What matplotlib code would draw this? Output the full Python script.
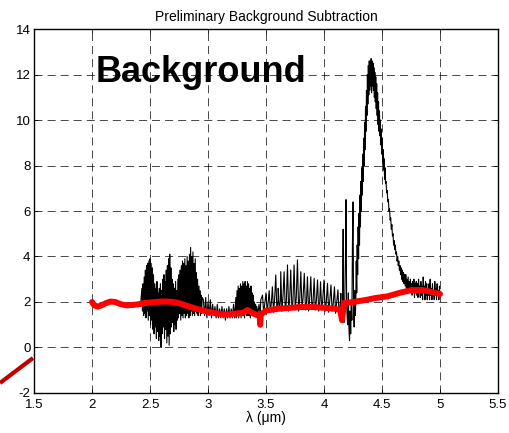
import numpy as np
import matplotlib.pyplot as plt
from matplotlib.lines import Line2D

plt.rcParams['font.family'] = ['Liberation Sans', 'DejaVu Sans']
plt.rcParams['lines.scale_dashes'] = False
plt.rcParams['axes.unicode_minus'] = False

# --- spectrum ---
flat_lam = [2.00, 2.02, 2.04, 2.06, 2.08, 2.10, 2.12, 2.14, 2.16, 2.18, 2.20,
            2.22, 2.24, 2.26, 2.28, 2.30, 2.32, 2.34, 2.36, 2.38, 2.40, 2.42]
flat_flux = [2.00, 1.85, 1.80, 1.85, 1.90, 1.95, 2.00, 2.05, 2.05, 2.00, 2.02,
             1.95, 1.90, 1.88, 1.85, 1.88, 1.90, 1.85, 1.92, 1.95, 1.90, 1.98]

# 2.43 - 2.95 um: strong water band, 0.005 um sampling
band_lam = [2.430, 2.435, 2.440, 2.445, 2.450, 2.455, 2.460, 2.465, 2.470, 2.475,
            2.480, 2.485, 2.490, 2.495, 2.500, 2.505, 2.510, 2.515, 2.520, 2.525,
            2.530, 2.535, 2.540, 2.545, 2.550, 2.555, 2.560, 2.565, 2.570, 2.575,
            2.580, 2.585, 2.590, 2.595, 2.600, 2.605, 2.610, 2.615, 2.620, 2.625,
            2.630, 2.635, 2.640, 2.645, 2.650, 2.655, 2.660, 2.665, 2.670, 2.675,
            2.680, 2.685, 2.690, 2.695, 2.700, 2.705, 2.710, 2.715, 2.720, 2.725,
            2.730, 2.735, 2.740, 2.745, 2.750, 2.755, 2.760, 2.765, 2.770, 2.775,
            2.780, 2.785, 2.790, 2.795, 2.800, 2.805, 2.810, 2.815, 2.820, 2.825,
            2.830, 2.835, 2.840, 2.845, 2.850, 2.855, 2.860, 2.865, 2.870, 2.875,
            2.880, 2.885, 2.890, 2.895, 2.900, 2.905, 2.910, 2.915, 2.920, 2.925,
            2.930, 2.935, 2.940, 2.945, 2.950]
band_flux = [2.6, 1.6, 2.8, 1.4, 3.1, 1.5, 3.4, 1.3, 3.6, 1.6,
             3.7, 1.2, 3.8, 1.4, 3.9, 1.0, 3.7, 1.2, 3.5, 0.8,
             3.2, 0.6, 2.8, 0.9, 2.6, 0.4, 2.9, 0.7, 2.4, 0.3,
             2.6, 0.5, 2.8, 0.0, 2.5, 0.6, 3.0, 0.9, 3.2, 0.4,
             2.9, 0.8, 3.4, 0.2, 3.6, 0.5, 3.9, 0.1, 4.1, 0.6,
             3.5, 0.9, 3.0, 1.1, 2.8, 0.7, 2.6, 1.0, 2.9, 0.8,
             2.5, 1.2, 3.0, 1.3, 3.2, 1.5, 3.4, 1.2, 3.6, 1.4,
             3.8, 1.3, 3.7, 1.5, 3.9, 1.3, 3.6, 1.4, 4.0, 1.5,
             3.8, 1.3, 4.1, 1.4, 4.4, 1.6, 4.0, 1.4, 4.2, 1.5,
             3.7, 1.4, 3.9, 1.6, 3.3, 1.5, 3.0, 1.4, 2.7, 1.6,
             2.5, 1.4, 2.3, 1.5, 2.2]

# 2.96 - 3.47 um
mid_lam = [2.96, 2.97, 2.98, 2.99, 3.00, 3.01, 3.02, 3.03, 3.04, 3.05,
           3.06, 3.07, 3.08, 3.09, 3.10, 3.11, 3.12, 3.13, 3.14, 3.15,
           3.16, 3.17, 3.18, 3.19, 3.20, 3.21, 3.22, 3.23,
           3.240, 3.245, 3.250, 3.255, 3.260, 3.265, 3.270, 3.275, 3.280, 3.285,
           3.290, 3.295, 3.300, 3.305, 3.310, 3.315, 3.320, 3.325, 3.330, 3.335,
           3.340, 3.345, 3.350, 3.355, 3.360, 3.365, 3.370, 3.375, 3.380, 3.385,
           3.390, 3.395, 3.400, 3.405, 3.410, 3.415, 3.420, 3.430, 3.440, 3.450,
           3.455]
mid_flux = [2.1, 1.4, 2.2, 1.3, 2.0, 1.4, 2.1, 1.3, 1.9, 1.4,
            1.8, 1.3, 1.9, 1.3, 1.7, 1.3, 1.8, 1.3, 1.7, 1.2,
            1.7, 1.3, 1.8, 1.3, 1.7, 1.3, 1.9, 1.3,
            2.2, 1.3, 2.5, 1.4, 2.7, 1.3, 2.6, 1.4, 2.8, 1.3,
            2.7, 1.4, 2.9, 1.4, 2.8, 1.3, 2.9, 1.5, 2.7, 1.4,
            2.9, 1.4, 2.8, 1.4, 2.6, 1.3, 2.7, 1.5, 2.4, 1.4,
            2.3, 1.5, 2.0, 1.4, 1.9, 1.5, 1.8, 1.5, 1.9, 1.4,
            2.1]

# 3.47 - 4.15 um: regular comb of lines (peak, then floor, then mid)
comb_lam = [3.470, 3.500, 3.527, 3.555, 3.584, 3.605, 3.627, 3.656, 3.685, 3.713,
            3.742, 3.771, 3.800, 3.830, 3.857, 3.886, 3.915, 3.944, 3.970, 4.000,
            4.030, 4.060, 4.090, 4.120]
comb_peak = [2.30, 2.40, 2.50, 2.67, 3.19, 2.60, 3.33, 3.33, 3.63, 3.41,
             3.63, 3.85, 3.33, 3.26, 3.11, 3.11, 3.04, 2.97, 2.89, 2.97,
             2.82, 2.75, 2.67, 2.53]
comb_floor = [1.50, 1.55, 1.60, 1.55, 1.60, 1.65, 1.60, 1.65, 1.60, 1.70,
              1.65, 1.60, 1.70, 1.65, 1.60, 1.70, 1.65, 1.60, 1.65, 1.60,
              1.55, 1.60, 1.50, 1.45]
comb_mid = [1.90, 2.00, 1.95, 2.10, 2.00, 2.05, 2.20, 2.00, 2.10, 2.00,
            2.20, 2.05, 2.15, 2.00, 2.10, 1.95, 2.05, 2.00, 2.10, 1.95,
            2.00, 1.90, 1.95, 1.85]

# 4.14 - 4.27 um: isolated narrow spikes and CO2 dips
spike_lam = [4.140, 4.145, 4.150, 4.155, 4.160, 4.165, 4.168, 4.172, 4.178, 4.185,
             4.190, 4.195, 4.200, 4.205, 4.210, 4.215, 4.220, 4.225, 4.230, 4.235,
             4.240, 4.245, 4.250, 4.255, 4.260, 4.265]
spike_flux = [1.90, 2.38, 1.70, 1.50, 1.90, 5.20, 1.60, 1.10, 1.80, 4.00,
              6.50, 1.90, 1.30, 1.00, 2.40, 0.80, 0.30, 1.60, 0.60, 2.00,
              1.20, 4.50, 6.40, 1.50, 0.90, 2.50]

# 4.27 - 5.00 um: main emission peak and tail
peak_lam = [4.270, 4.274, 4.278, 4.282, 4.286, 4.290, 4.294, 4.298, 4.302, 4.306,
            4.310, 4.314, 4.318, 4.322, 4.326, 4.330, 4.334, 4.338, 4.342, 4.346,
            4.350, 4.354, 4.358, 4.362, 4.366, 4.370, 4.374, 4.378, 4.382, 4.386,
            4.390, 4.394, 4.398, 4.402, 4.406, 4.410, 4.414, 4.418, 4.422, 4.426,
            4.430, 4.434, 4.438, 4.442, 4.446, 4.450, 4.454, 4.458, 4.462, 4.466,
            4.470, 4.474, 4.478, 4.482, 4.486, 4.490, 4.494, 4.498, 4.502, 4.506,
            4.510, 4.514, 4.518, 4.522, 4.526, 4.530, 4.535, 4.540, 4.545, 4.550,
            4.555, 4.560, 4.565, 4.570, 4.575, 4.580, 4.585, 4.590, 4.595, 4.600,
            4.605, 4.610, 4.615, 4.620, 4.625, 4.630, 4.635, 4.640, 4.645, 4.650,
            4.655, 4.660, 4.665, 4.670, 4.675, 4.680, 4.685, 4.690, 4.695, 4.700,
            4.705, 4.710, 4.715, 4.720, 4.725]
peak_flux = [1.4, 2.0, 3.8, 2.4, 4.5, 3.2, 5.3, 3.9, 5.9, 4.5,
             6.7, 5.3, 7.3, 6.0, 7.9, 6.7, 8.5, 7.3, 9.2, 8.0,
             9.9, 8.7, 10.6, 9.5, 11.3, 10.2, 12.0, 10.7, 12.4, 11.1,
             12.6, 11.3, 12.5, 11.5, 12.7, 11.2, 12.6, 11.5, 12.5, 11.3,
             12.3, 11.0, 12.1, 10.8, 11.9, 10.5, 11.6, 10.2, 11.2, 9.8,
             10.8, 9.5, 10.4, 9.3, 10.0, 8.9, 9.6, 8.5, 9.2, 8.1,
             8.7, 7.8, 8.3, 7.4, 7.9, 7.2, 7.3, 6.8, 6.9, 6.4,
             6.5, 6.0, 6.1, 5.6, 5.7, 5.2, 5.4, 4.9, 5.0, 4.5,
             4.7, 4.3, 4.5, 4.1, 4.2, 3.8, 4.0, 3.6, 3.8, 3.4,
             3.6, 3.2, 3.5, 3.0, 3.4, 2.9, 3.3, 2.8, 3.2, 2.7,
             3.2, 2.6, 3.0, 2.5, 3.1]

tail_lam = [4.730, 4.735, 4.740, 4.745, 4.750, 4.755, 4.760, 4.765, 4.770, 4.775,
            4.780, 4.785, 4.790, 4.795, 4.800, 4.805, 4.810, 4.815, 4.820, 4.825,
            4.830, 4.835, 4.840, 4.845, 4.850, 4.855, 4.860, 4.865, 4.870, 4.875,
            4.880, 4.885, 4.890, 4.895, 4.900, 4.905, 4.910, 4.915, 4.920, 4.925,
            4.930, 4.935, 4.940, 4.945, 4.950, 4.955, 4.960, 4.965, 4.970, 4.975,
            4.980, 4.985, 4.990, 4.995, 5.000]
tail_flux = [2.5, 2.9, 2.4, 3.0, 2.5, 2.8, 2.3, 2.9, 2.4, 3.0,
             2.2, 2.8, 2.4, 2.9, 2.3, 2.8, 2.2, 3.0, 2.4, 2.7,
             2.2, 2.9, 2.3, 2.7, 2.1, 3.1, 2.4, 2.7, 2.1, 2.9,
             2.3, 2.8, 2.1, 2.6, 2.3, 2.8, 2.1, 3.0, 2.3, 2.6,
             2.1, 2.8, 2.3, 2.5, 2.1, 2.9, 2.3, 2.6, 2.1, 2.8,
             2.3, 2.5, 2.1, 2.7, 2.3]

# fitted background (red)
bg_lam = [2.00, 2.02, 2.05, 2.08, 2.12, 2.16, 2.20, 2.25, 2.30, 2.35,
          2.40, 2.45, 2.50, 2.55, 2.60, 2.65, 2.70, 2.75, 2.80, 2.85,
          2.90, 2.95, 3.00, 3.05, 3.10, 3.15, 3.20, 3.25, 3.30, 3.34,
          3.38, 3.42, 3.445, 3.45, 3.455, 3.50, 3.60, 3.70, 3.80, 3.90,
          4.00, 4.10, 4.14, 4.155, 4.165, 4.17, 4.25, 4.35, 4.45, 4.55,
          4.65, 4.75, 4.85, 4.92, 5.00]
bg_flux = [2.00, 1.85, 1.80, 1.85, 1.95, 2.02, 2.00, 1.90, 1.85, 1.87,
           1.90, 1.95, 1.98, 2.00, 2.02, 2.02, 2.00, 1.95, 1.86, 1.78,
           1.70, 1.63, 1.57, 1.52, 1.48, 1.45, 1.47, 1.50, 1.52, 1.65,
           1.52, 1.43, 1.40, 1.00, 1.45, 1.62, 1.70, 1.74, 1.78, 1.78,
           1.75, 1.70, 1.65, 1.20, 1.60, 1.95, 2.00, 2.08, 2.18, 2.25,
           2.40, 2.52, 2.53, 2.45, 2.35]

# assemble the comb as peak / floor / mid triplets
comb_x, comb_y = [], []
for x0, pk, lo, md in zip(comb_lam, comb_peak, comb_floor, comb_mid):
    comb_x += [x0, x0 + 0.010, x0 + 0.019]
    comb_y += [pk, lo, md]

lam = np.concatenate([flat_lam, band_lam, mid_lam, comb_x, spike_lam, peak_lam, tail_lam])
flux = np.concatenate([flat_flux, band_flux, mid_flux, comb_y, spike_flux, peak_flux, tail_flux])

fig = plt.figure(figsize=(5.10, 4.33), dpi=100)
ax = fig.add_axes([0.0667, 0.0924, 0.9098, 0.8406])

ax.plot(lam, flux, color='black', linewidth=0.8)
ax.plot(bg_lam, bg_flux, color='#ff0000', linewidth=4.3, solid_capstyle='round')

ax.set_xlim(1.5, 5.5)
ax.set_ylim(-2, 14)
ax.set_xticks([1.5, 2, 2.5, 3, 3.5, 4, 4.5, 5, 5.5])
ax.set_xticklabels(['1.5', '2', '2.5', '3', '3.5', '4', '4.5', '5', '5.5'])
ax.set_yticks([-2, 0, 2, 4, 6, 8, 10, 12, 14])
ax.tick_params(direction='in', length=3, width=0.6, labelsize=9.5,
               top=True, right=True)
ax.tick_params(axis='x', pad=4)
ax.tick_params(axis='y', pad=2.5)
for s in ax.spines.values():
    s.set_linewidth(1.0)

ax.grid(True, color='black', linestyle='--', dashes=(5.8, 3.6), linewidth=0.5)

ax.set_title('Preliminary Background Subtraction', fontsize=10, pad=6)
ax.set_xlabel('λ (μm)', fontsize=10, labelpad=0)

ax.text(2.03, 11.65, 'Background', fontsize=26, fontweight='bold',
        ha='left', va='baseline')

# leftover annotation line poking out at the bottom left
fig.add_artist(Line2D([0.0, 0.0647], [0.1155, 0.1732], color='#c00000',
                      linewidth=3.0, solid_capstyle='butt'))

fig.savefig('out.png', dpi=100)
